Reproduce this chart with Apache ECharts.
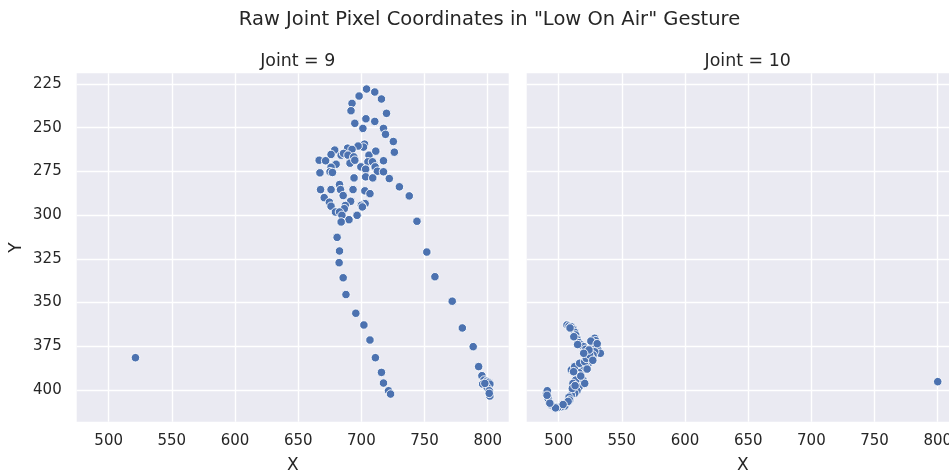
<!DOCTYPE html>
<html>
<head>
<meta charset="utf-8">
<script src="https://cdn.jsdelivr.net/npm/echarts@6/dist/echarts.min.js"></script>
<style>html,body{margin:0;padding:0;background:#fff}#c{width:949px;height:475px}</style>
</head>
<body>
<div id="c"></div>
<script>
// ---- data ----
const chartTitle = 'Raw Joint Pixel Coordinates in "Low On Air" Gesture';
const panelTitles = ['Joint = 9', 'Joint = 10'];
const xTicks = [500, 550, 600, 650, 700, 750, 800];
const yTicks = [225, 250, 275, 300, 325, 350, 375, 400];
const xRange = [474.7, 816.6];
const yRange = [218.9, 418.1];

const joint9X = [521.2, 704.1, 698.2, 710.6, 715.9, 692.6, 691.8, 719.9, 694.8, 703.6, 710.6, 701.2, 717.5, 719.1, 725.3, 726.1,
  702.5, 701.7, 697.4, 689.1, 692.6, 678.9, 676.0, 684.0, 685.9, 689.4, 694.0, 706.0, 711.4, 717.5, 666.6, 671.7,
  680.0, 676.0, 691.0, 694.8, 705.2, 699.6, 703.4, 710.1, 708.8, 710.9, 712.7, 717.5, 667.2, 675.2, 677.1, 694.2,
  703.4, 709.0, 722.1, 730.1, 737.9, 682.7, 667.7, 676.0, 683.5, 693.4, 702.8, 706.8, 685.6, 670.6, 691.5, 703.0,
  700.0, 700.8, 674.7, 676.0, 687.3, 686.5, 679.5, 682.7, 684.6, 696.6, 690.2, 684.0, 744.0, 680.8, 682.7, 751.8,
  682.4, 758.2, 685.6, 687.8, 771.9, 695.6, 779.9, 702.0, 706.8, 788.5, 711.1, 792.8, 715.9, 795.4, 717.5, 721.5,
  723.1, 797.1, 799.2, 796.0, 800.6, 801.7, 799.5, 801.2, 801.7, 801.2, 797.7];
const joint9Y = [381.5, 227.9, 231.9, 229.6, 233.6, 236.1, 240.3, 241.8, 247.5, 244.9, 246.4, 250.4, 250.4, 253.8, 257.9, 264.0,
  259.4, 261.1, 260.5, 261.7, 262.4, 262.8, 265.3, 265.7, 264.7, 265.7, 266.7, 265.7, 263.4, 268.9, 268.6, 268.9,
  270.9, 272.6, 270.3, 268.6, 269.5, 272.4, 273.7, 271.0, 269.5, 272.4, 274.9, 275.2, 275.8, 275.2, 275.6, 278.7,
  278.1, 278.7, 279.1, 283.8, 289.0, 282.5, 285.4, 285.4, 285.4, 285.4, 286.1, 287.7, 288.8, 290.0, 292.1, 293.4,
  294.4, 295.3, 292.6, 294.9, 294.5, 296.3, 298.2, 298.2, 300.1, 300.1, 302.6, 303.9, 303.5, 312.7, 320.5, 321.1,
  327.2, 335.2, 335.8, 345.4, 349.2, 356.1, 364.5, 362.8, 371.4, 375.2, 381.5, 386.6, 389.9, 391.8, 396.0, 400.4,
  402.3, 394.3, 395.0, 396.6, 395.6, 396.6, 398.5, 400.4, 403.4, 401.9, 396.2];

const joint10X = [506.6, 508.2, 510.0, 511.3, 512.7, 513.5, 514.5, 516.1, 518.0, 519.8, 521.4, 523.2, 528.5, 529.3, 527.7, 526.7,
  529.8, 531.1, 533.0, 528.5, 527.2, 525.9, 524.5, 523.2, 521.4, 519.8, 518.0, 516.1, 514.0, 515.3, 516.6, 518.0,
  516.1, 514.5, 512.7, 510.0, 508.2, 508.7, 506.6, 504.8, 502.1, 499.4, 496.8, 494.2, 492.3, 491.5, 490.3, 491.0,
  510.0, 512.7, 516.6, 520.6, 521.9, 524.5, 524.0, 519.8, 516.6, 519.2, 520.6, 513.5, 511.3, 510.8,
  509.0, 512.0, 515.0, 525.5, 530.5, 527.0, 522.5, 517.5, 513.0, 511.8, 507.5, 503.5, 497.5, 493.0, 490.8, 800.0];
const joint10Y = [362.8, 363.4, 363.8, 365.3, 367.0, 368.5, 371.0, 372.9, 374.2, 375.2, 376.7, 378.1, 370.4, 371.8, 373.3, 374.8,
  375.2, 377.1, 379.0, 378.1, 380.0, 381.9, 383.8, 385.1, 386.6, 388.1, 388.9, 390.1, 391.4, 393.3, 395.2, 397.1,
  398.4, 400.4, 401.8, 402.8, 404.1, 405.7, 407.6, 409.1, 409.5, 409.9, 409.5, 408.5, 406.6, 404.7, 401.8, 400.4,
  388.5, 386.6, 384.7, 383.8, 381.9, 380.0, 377.1, 379.0, 392.3, 394.3, 396.2, 394.3, 396.2, 399.1,
  364.5, 369.5, 374.0, 372.0, 373.5, 383.0, 388.0, 392.0, 397.5, 389.5, 406.5, 408.3, 410.2, 407.5, 403.0, 395.2];

// ---- chart ----
const TXT = '#262626';
const FONT = 'DejaVu Sans';
const pairs = (xs, ys) => xs.map((x, i) => [x, ys[i]]);

const gridTop = 73.3, gridH = 348.4, gridW = 432;
const gridLefts = [76.7, 526.7];

function xAxisFor(idx) {
  return {
    type: 'value', gridIndex: idx, min: xRange[0], max: xRange[1],
    name: 'X', nameLocation: 'middle', nameGap: 35,
    nameTextStyle: { color: TXT, fontSize: 17, fontFamily: FONT },
    axisLine: { show: false }, axisTick: { show: false, customValues: xTicks },
    axisLabel: { customValues: xTicks, color: TXT, fontSize: 15, fontFamily: FONT, margin: 12 },
    splitLine: { show: true, lineStyle: { color: '#ffffff', width: 1.4 } }
  };
}
function yAxisFor(idx) {
  return {
    type: 'value', gridIndex: idx, inverse: true, min: yRange[0], max: yRange[1],
    name: idx === 0 ? 'Y' : '', nameLocation: 'middle', nameGap: 52,
    nameTextStyle: { color: TXT, fontSize: 17, fontFamily: FONT },
    axisLine: { show: false }, axisTick: { show: false, customValues: yTicks },
    axisLabel: { show: idx === 0, customValues: yTicks, color: TXT, fontSize: 15, fontFamily: FONT, margin: 15 },
    splitLine: { show: true, lineStyle: { color: '#ffffff', width: 1.4 } }
  };
}
function seriesFor(idx, data) {
  return {
    type: 'scatter', xAxisIndex: idx, yAxisIndex: idx, data: data,
    symbolSize: 8.5, silent: true, animation: false,
    itemStyle: { color: '#4C72B0', borderColor: '#ffffff', borderWidth: 0.9, opacity: 1 }
  };
}

const chart = echarts.init(document.getElementById('c'), null, { renderer: 'canvas' });
chart.setOption({
  backgroundColor: '#ffffff',
  animation: false,
  title: [
    { text: chartTitle, left: 484.5, top: 5, textAlign: 'center',
      textStyle: { color: TXT, fontSize: 19.5, fontWeight: 'normal', fontFamily: FONT } },
    { text: panelTitles[0], left: gridLefts[0] + gridW / 2, top: 48, textAlign: 'center',
      textStyle: { color: TXT, fontSize: 17.4, fontWeight: 'normal', fontFamily: FONT } },
    { text: panelTitles[1], left: gridLefts[1] + gridW / 2, top: 48, textAlign: 'center',
      textStyle: { color: TXT, fontSize: 17.4, fontWeight: 'normal', fontFamily: FONT } }
  ],
  grid: gridLefts.map(l => ({
    left: l, top: gridTop, width: gridW, height: gridH,
    show: true, backgroundColor: '#EAEAF2', borderWidth: 0,
    containLabel: false, outerBoundsMode: 'none'
  })),
  xAxis: [xAxisFor(0), xAxisFor(1)],
  yAxis: [yAxisFor(0), yAxisFor(1)],
  series: [seriesFor(0, pairs(joint9X, joint9Y)), seriesFor(1, pairs(joint10X, joint10Y))]
});
</script>
</body>
</html>
